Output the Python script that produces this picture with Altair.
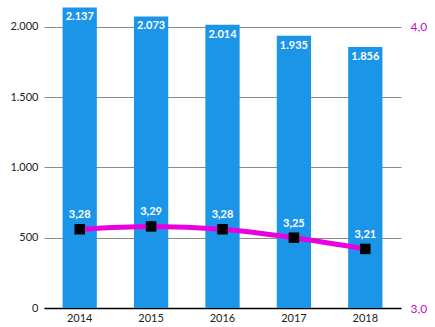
import altair as alt
import pandas as pd

years = ["2014", "2015", "2016", "2017", "2018"]
counts = [2137, 2073, 2014, 1935, 1856]
grades = [3.28, 3.29, 3.28, 3.25, 3.21]

df = pd.DataFrame({"year": years, "count": counts, "grade": grades})

FONT = "Lato"
BLUE = "#1b95e8"
MAGENTA = "#e800e0"

x = alt.X(
    "year:O",
    scale=alt.Scale(paddingInner=0.52, paddingOuter=0.26),
    axis=alt.Axis(title=None, labelAngle=0, ticks=False, domainColor="#000000",
                  domainWidth=1.5, labelFontSize=11, labelColor="#222222",
                  labelPadding=4, labelFont=FONT),
)

base = alt.Chart(df)

bars = base.mark_bar(color=BLUE).encode(
    x=x,
    y=alt.Y("count:Q",
            scale=alt.Scale(domain=[0, 2190], nice=False),
            axis=alt.Axis(title=None, values=[0, 500, 1000, 1500, 2000], format=",d",
                          grid=True, gridColor="#8a8a8a", gridWidth=1, domain=False,
                          ticks=False, labelPadding=6, labelFontSize=11,
                          labelColor="#222222", labelFont=FONT)),
)
bar_text = base.mark_text(baseline="top", dy=4, color="white", fontWeight="bold",
                          fontSize=11, font=FONT).encode(
    x=x, y="count:Q", text=alt.Text("count:Q", format=",d"))
left = alt.layer(bars, bar_text)

line = base.mark_line(color=MAGENTA, strokeWidth=5, interpolate="monotone").encode(
    x=x,
    y=alt.Y("grade:Q",
            scale=alt.Scale(domain=[3, 4.095], nice=False, zero=False),
            axis=alt.Axis(orient="right", title=None, values=[3, 4], format=".1f",
                          grid=False, domain=False, ticks=False, labelPadding=9,
                          labelFontSize=12, labelColor="#c010c0", labelFont=FONT)),
)
pts = base.mark_square(size=110, color="black", opacity=1).encode(x=x, y="grade:Q")
pt_text = base.mark_text(dy=-14, color="white", fontWeight="bold", fontSize=11,
                         font=FONT).encode(
    x=x, y="grade:Q", text=alt.Text("grade:Q", format=".2f"))
right = alt.layer(line, pts, pt_text)

chart = alt.layer(left, right).resolve_scale(y="independent").properties(
    width=357, height=308, autosize="none",
    padding={"left": 44, "top": 0, "right": 34, "bottom": 19},
).configure(
    locale={"number": {"decimal": ",", "thousands": ".", "grouping": [3],
                       "currency": ["", " €"]}}
).configure_view(stroke=None)

chart.save("out.html", embed_options={"renderer": "svg", "actions": False})
